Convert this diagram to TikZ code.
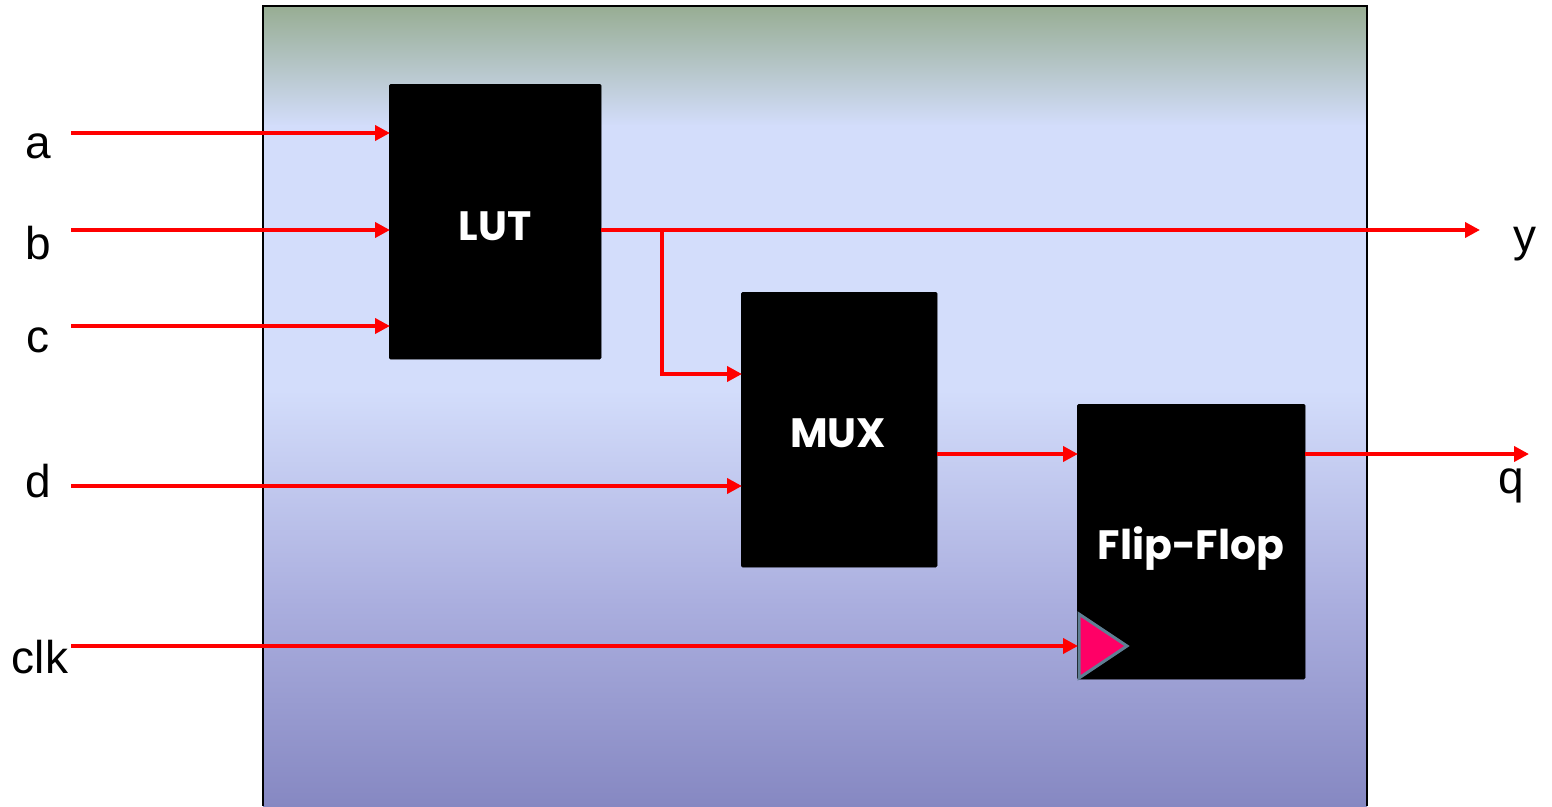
\documentclass[tikz,border=0pt]{standalone}
\usepackage{fontspec}
\setmainfont{Liberation Sans}
\newfontfamily\boxfont{Poppins}
\usetikzlibrary{arrows.meta}
\definecolor{topgreen}{HTML}{97AD93}
\definecolor{lav}{HTML}{D3DDFB}
\definecolor{midlav}{HTML}{ABAFDF}
\definecolor{botpurp}{HTML}{8688C2}
\definecolor{sig}{HTML}{FF0000}
\definecolor{clkpink}{HTML}{FF0066}
\definecolor{clkedge}{HTML}{5F7F94}
\tikzset{
  blockbox/.style={fill=black, draw=black, rounded corners=1.5pt, inner sep=0pt, anchor=north west},
  blocktext/.style={text=white, font=\boxfont\bfseries\fontsize{41}{45}\selectfont},
  pinlabel/.style={font=\fontsize{46}{50}\selectfont, inner sep=0pt},
  wire/.style={draw=sig, line width=4pt},
  wirearrow/.style={wire, -{Triangle[length=15pt,width=15pt]}, shorten >=-1pt},
}
\begin{document}
\begin{tikzpicture}[x=1pt,y=-1pt]
\useasboundingbox (0,0) rectangle (1552,806);
% background frame
\shade[top color=topgreen, bottom color=lav] (263,6) rectangle (1367,126);
\fill[lav] (263,125) rectangle (1367,391);
\shade[top color=lav, bottom color=midlav] (263,390) rectangle (1367,601);
\shade[top color=midlav, bottom color=botpurp] (263,600) rectangle (1367,806);
\draw[black, line width=2.5pt] (263,806) -- (263,6) -- (1367,6) -- (1367,806);
% blocks
\node[blockbox, minimum width=212pt, minimum height=275pt] (lut) at (389,84) {};
\node[blockbox, minimum width=196pt, minimum height=275pt] (mux) at (741,292) {};
\node[blockbox, minimum width=228pt, minimum height=275pt] (ff) at (1077,404) {};
\node[blocktext] (luttext) at (495,226) {LUT};
\node[blocktext] (muxtext) at (838,433) {MUX};
\node[blocktext] (fftext) at (1191,549) {Flip-Flop};
% clock triangle
\draw[fill=clkpink, draw=clkedge, line width=3pt, line join=miter] (1079,614) -- (1127,646) -- (1079,678) -- cycle;
% labels
\node[pinlabel] (la) at (38,146) {a};
\node[pinlabel] (lb) at (38,243) {b};
\node[pinlabel] (lc) at (38,340) {c};
\node[pinlabel] (ld) at (38,481) {d};
\node[pinlabel] (lclk) at (40,657) {clk};
\node[pinlabel] (ly) at (1525,244) {y};
\node[pinlabel] (lq) at (1511,486) {q};
% wire endpoints
\coordinate (ina) at (71,133);
\coordinate (inb) at (71,230);
\coordinate (inc) at (71,326);
\coordinate (ind) at (71,486);
\coordinate (inclk) at (71,646);
\coordinate (outy) at (1479,230);
\coordinate (outq) at (1528,454);
\coordinate (branch) at (662,230);
% wires
\draw[wirearrow] (ina) -- (lut.west |- ina);
\draw[wirearrow] (inb) -- (lut.west |- inb);
\draw[wirearrow] (inc) -- (lut.west |- inc);
\draw[wirearrow] (ind) -- (mux.west |- ind);
\draw[wirearrow] (inclk) -- (ff.west |- inclk);
\draw[wirearrow] (lut.east |- outy) -- (outy);
\draw[wirearrow] (branch) -- (662,374) -- (mux.west |- 0,374);
\draw[wirearrow] (mux.east |- 0,454) -- (ff.west |- 0,454);
\draw[wirearrow] (ff.east |- outq) -- (outq);
\end{tikzpicture}
\end{document}
